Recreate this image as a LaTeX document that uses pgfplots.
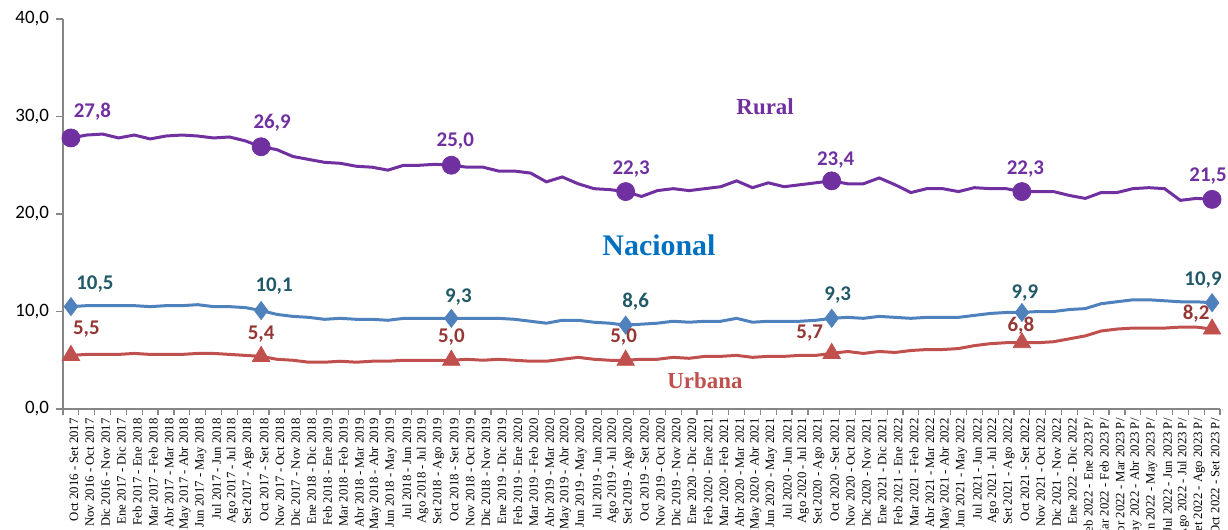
\documentclass[border=0pt]{standalone}
\usepackage{pgfplots}
\pgfplotsset{compat=1.18}
\usepackage{pgfplotstable}
\usepackage{fontspec}
\setmainfont{Liberation Serif}
\newfontfamily\calibri{Carlito}
\definecolor{ruralc}{HTML}{7030A0}
\definecolor{nacc}{HTML}{4F81BD}
\definecolor{naclab}{HTML}{215968}
\definecolor{nactext}{HTML}{0070C0}
\definecolor{urbc}{HTML}{C0504D}
\definecolor{urblab}{HTML}{953735}
\definecolor{axgray}{HTML}{868686}

\pgfplotstableread{
x y
0 27.8
1 28.1
2 28.2
3 27.8
4 28.1
5 27.7
6 28.0
7 28.1
8 28.0
9 27.8
10 27.9
11 27.5
12 26.9
13 26.6
14 25.9
15 25.6
16 25.3
17 25.2
18 24.9
19 24.8
20 24.5
21 25.0
22 25.0
23 25.1
24 25.0
25 24.8
26 24.8
27 24.4
28 24.4
29 24.2
30 23.3
31 23.8
32 23.1
33 22.6
34 22.5
35 22.3
36 21.8
37 22.4
38 22.6
39 22.4
40 22.6
41 22.8
42 23.4
43 22.7
44 23.2
45 22.8
46 23.0
47 23.2
48 23.4
49 23.1
50 23.1
51 23.7
52 23.0
53 22.2
54 22.6
55 22.6
56 22.3
57 22.7
58 22.6
59 22.6
60 22.3
61 22.3
62 22.3
63 21.9
64 21.6
65 22.2
66 22.2
67 22.6
68 22.7
69 22.6
70 21.4
71 21.6
72 21.5
}\rural

\pgfplotstableread{
x y
0 10.5
1 10.6
2 10.6
3 10.6
4 10.6
5 10.5
6 10.6
7 10.6
8 10.7
9 10.5
10 10.5
11 10.4
12 10.1
13 9.7
14 9.5
15 9.4
16 9.2
17 9.3
18 9.2
19 9.2
20 9.1
21 9.3
22 9.3
23 9.3
24 9.3
25 9.3
26 9.3
27 9.3
28 9.2
29 9.0
30 8.8
31 9.1
32 9.1
33 8.9
34 8.8
35 8.6
36 8.7
37 8.8
38 9.0
39 8.9
40 9.0
41 9.0
42 9.3
43 8.9
44 9.0
45 9.0
46 9.0
47 9.1
48 9.3
49 9.4
50 9.3
51 9.5
52 9.4
53 9.3
54 9.4
55 9.4
56 9.4
57 9.6
58 9.8
59 9.9
60 9.9
61 10.0
62 10.0
63 10.2
64 10.3
65 10.8
66 11.0
67 11.2
68 11.2
69 11.1
70 11.0
71 11.0
72 10.9
}\nacional

\pgfplotstableread{
x y
0 5.5
1 5.6
2 5.6
3 5.6
4 5.7
5 5.6
6 5.6
7 5.6
8 5.7
9 5.7
10 5.6
11 5.5
12 5.4
13 5.1
14 5.0
15 4.8
16 4.8
17 4.9
18 4.8
19 4.9
20 4.9
21 5.0
22 5.0
23 5.0
24 5.0
25 5.1
26 5.0
27 5.1
28 5.0
29 4.9
30 4.9
31 5.1
32 5.3
33 5.1
34 5.0
35 5.0
36 5.1
37 5.1
38 5.3
39 5.2
40 5.4
41 5.4
42 5.5
43 5.3
44 5.4
45 5.4
46 5.5
47 5.5
48 5.7
49 5.9
50 5.7
51 5.9
52 5.8
53 6.0
54 6.1
55 6.1
56 6.2
57 6.5
58 6.7
59 6.8
60 6.8
61 6.8
62 6.9
63 7.2
64 7.5
65 8.0
66 8.2
67 8.3
68 8.3
69 8.3
70 8.4
71 8.4
72 8.2
}\urbana

\pgfplotstableread{
x y label dx dy
0 27.8 27,8 10.75 13
12 26.9 26,9 5.5 11.75
24 25.0 25,0 2 12
35 22.3 22,3 2.75 11.5
48 23.4 23,4 2 10.5
60 22.3 22,3 1.75 11.5
72 21.5 21,5 -2 11.7
}\ruralm

\pgfplotstableread{
x y label dx dy
0 10.5 10,5 12 11.5
12 10.1 10,1 6.5 12
24 9.3 9,3 3.5 10.5
35 8.6 8,6 5 11.7
48 9.3 9,3 3 11.5
60 9.9 9,9 1.5 9.5
72 10.9 10,9 -4.5 11.3
}\nacionalm

\pgfplotstableread{
x y label dx dy
0 5.5 5,5 7.75 13
12 5.4 5,4 0 11
24 5.0 5,0 0 11.5
35 5.0 5,0 -1 11.5
48 5.7 5,7 -11 10
60 6.8 6,8 -0.5 8.5
72 8.2 8,2 -8 7.5
}\urbanam

\begin{document}
\begin{tikzpicture}
\begin{axis}[
  name=ax,
  scale only axis,
  width=578.5bp, height=195bp,
  xmin=-0.5, xmax=72.5,
  ymin=0, ymax=40,
  clip=false,
  axis x line*=bottom,
  axis y line*=left,
  axis line style={draw=axgray, line width=0.75bp, -},
  tick align=outside,
  ytick={0,10,20,30,40},
  major tick length=3.5bp,
  minor tick length=3bp,
  xtick={0,...,72},
  major x tick style={draw=none},
  minor xtick={-0.5,0.5,...,72.5},
  minor x tick style={draw=axgray, line width=0.6bp},
  major y tick style={draw=axgray, line width=0.6bp},
  yticklabel style={font=\calibri\fontsize{9.5}{10}\selectfont, /pgf/number format/.cd, fixed, fixed zerofill, precision=1, use comma, assume math mode=true},
  xticklabels={Oct 2016 - Set 2017, Nov 2016 - Oct 2017, Dic 2016 - Nov 2017, Ene 2017 - Dic 2017, Feb 2017 - Ene 2018, Mar 2017 - Feb 2018, Abr 2017 - Mar 2018, May 2017 - Abr 2018, Jun 2017 - May 2018, Jul 2017 - Jun 2018, Ago 2017 - Jul 2018, Set 2017 - Ago 2018, Oct 2017 - Set 2018, Nov 2017 - Oct 2018, Dic 2017 - Nov 2018, Ene 2018 - Dic 2018, Feb 2018 - Ene 2019, Mar 2018 - Feb 2019, Abr 2018 - Mar 2019, May 2018 - Abr 2019, Jun 2018 - May 2019, Jul 2018 - Jun 2019, Ago 2018 - Jul 2019, Set 2018 - Ago 2019, Oct 2018 - Set 2019, Nov 2018 - Oct 2019, Dic 2018 - Nov 2019, Ene 2019 - Dic 2019, Feb 2019 - Ene 2020, Mar 2019 - Feb 2020, Abr 2019 - Mar 2020, May 2019 - Abr 2020, Jun 2019 - May 2020, Jul 2019 - Jun 2020, Ago 2019 - Jul 2020, Set 2019 - Ago 2020, Oct 2019 - Set 2020, Nov 2019 - Oct 2020, Dic 2019 - Nov 2020, Ene 2020 - Dic 2020, Feb 2020 - Ene 2021, Mar 2020 - Feb 2021, Abr 2020 - Mar 2021, May 2020 - Abr 2021, Jun 2020 - May 2021, Jul 2020 - Jun 2021, Ago 2020 - Jul 2021, Set 2020 - Ago 2021, Oct 2020 - Set 2021, Nov 2020 - Oct 2021, Dic 2020 - Nov 2021, Ene 2021 - Dic 2021, Feb 2021 - Ene 2022, Mar 2021 - Feb 2022, Abr 2021 - Mar 2022, May 2021 - Abr 2022, Jun 2021 - May 2022, Jul 2021 - Jun 2022, Ago 2021 - Jul 2022, Set 2021 - Ago 2022, Oct 2021 - Set 2022, Nov 2021 - Oct 2022, Dic 2021 - Nov 2022, Ene 2022 - Dic 2022, Feb 2022 - Ene 2023 P/, Mar 2022 - Feb 2023 P/, Abr 2022 - Mar 2023 P/, May 2022 - Abr 2023 P/, Jun 2022 - May 2023 P/, Jul 2022 - Jun 2023 P/, Ago 2022 - Jul 2023 P/, Set 2022 - Ago 2023 P/, Oct 2022 - Set 2023 P/},
  xticklabel style={rotate=90, anchor=east, font=\fontsize{6.4}{7}\selectfont, inner sep=1pt},
  x tick label style={yshift=-1.5bp},
  xtick pos=bottom, ytick pos=left,
]
\addplot[ruralc, line width=1.5bp, no markers] table[x=x,y=y] {\rural};
\addplot[nacc, line width=1.5bp, no markers] table[x=x,y=y] {\nacional};
\addplot[urbc, line width=1.5bp, no markers] table[x=x,y=y] {\urbana};

\addplot[only marks, mark=*, mark size=4.5bp, mark options={fill=ruralc, draw=ruralc},
  point meta=explicit symbolic,
  visualization depends on={\thisrow{dx} \as \dx},
  visualization depends on={\thisrow{dy} \as \dy},
  nodes near coords={\pgfplotspointmeta},
  every node near coord/.style={anchor=center, xshift=\dx bp, yshift=\dy bp, text=ruralc, font=\calibri\bfseries\fontsize{10.5}{12}\selectfont}]
  table[x=x,y=y,meta=label] {\ruralm};
\addplot[only marks, mark=diamond*, mark size=4.5bp, mark options={fill=nacc, draw=nacc},
  point meta=explicit symbolic,
  visualization depends on={\thisrow{dx} \as \dx},
  visualization depends on={\thisrow{dy} \as \dy},
  nodes near coords={\pgfplotspointmeta},
  every node near coord/.style={anchor=center, xshift=\dx bp, yshift=\dy bp, text=naclab, font=\calibri\bfseries\fontsize{10.5}{12}\selectfont}]
  table[x=x,y=y,meta=label] {\nacionalm};
\addplot[only marks, mark=triangle*, mark size=5bp, mark options={fill=urbc, draw=urbc},
  point meta=explicit symbolic,
  visualization depends on={\thisrow{dx} \as \dx},
  visualization depends on={\thisrow{dy} \as \dy},
  nodes near coords={\pgfplotspointmeta},
  every node near coord/.style={anchor=center, xshift=\dx bp, yshift=\dy bp, text=urblab, font=\calibri\bfseries\fontsize{10.5}{12}\selectfont}]
  table[x=x,y=y,meta=label] {\urbanam};

\node[text=ruralc, font=\bfseries\fontsize{11.5}{13}\selectfont] at (axis cs:43.8,31.0) {Rural};
\node[text=nactext, font=\bfseries\fontsize{15}{17}\selectfont] at (axis cs:37.1,16.8) {Nacional};
\node[text=urbc, font=\bfseries\fontsize{11.5}{13}\selectfont] at (axis cs:40.0,2.9) {Urbana};
\end{axis}
\pgfresetboundingbox
\path[use as bounding box] ([xshift=-31.5bp,yshift=-60bp]ax.south west) rectangle ([xshift=4bp,yshift=9.5bp]ax.north east);
\end{tikzpicture}
\end{document}
